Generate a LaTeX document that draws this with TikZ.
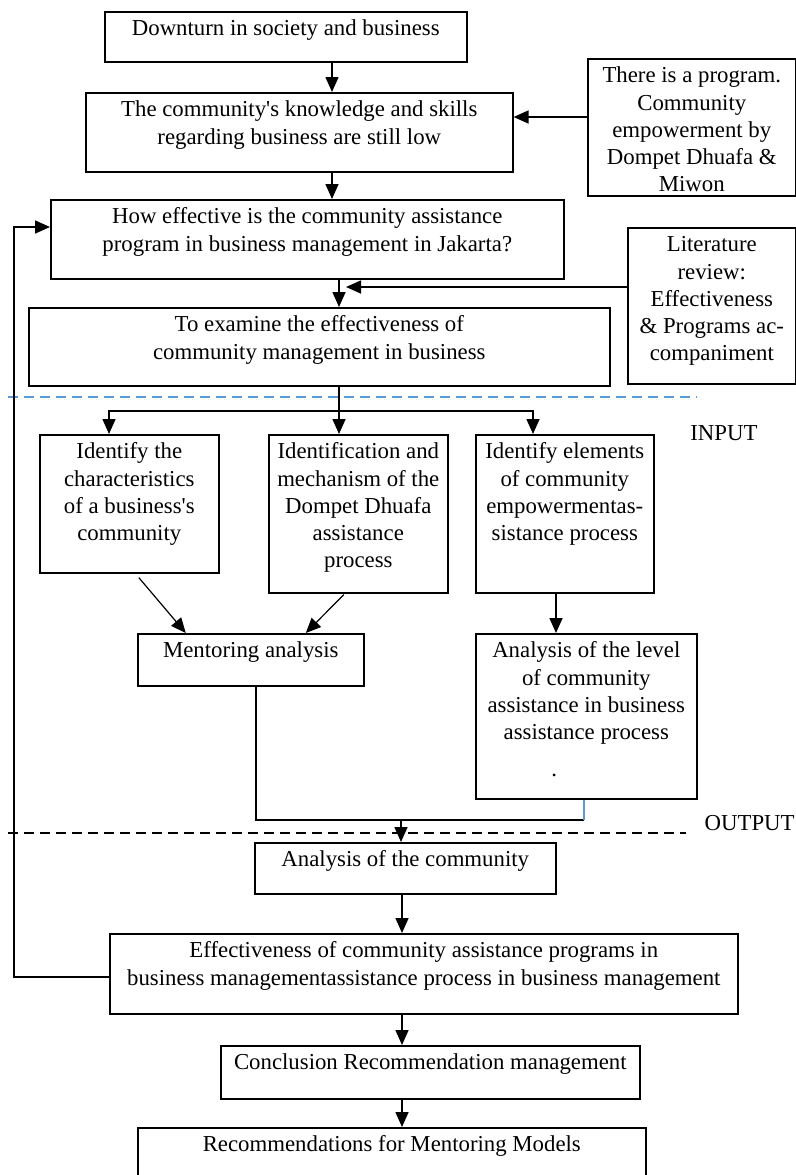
\documentclass[tikz,border=0pt]{standalone}
\usepackage{fontspec}
\setmainfont{Liberation Serif}
\newfontfamily\plainrm{Liberation Serif}
\usetikzlibrary{arrows.meta}
\definecolor{dashblue}{RGB}{91,155,213}
\tikzstyle{block} = [rectangle, draw=black, thick, inner sep=0pt, anchor=north west]
\tikzstyle{arrow} = [thick,->,>={Triangle[length=7.5pt,width=6.5pt]}]
\tikzstyle{line} = [thick]
\tikzstyle{divider} = [thick, dash pattern=on 5pt off 3pt]
\newcommand{\boxtext}[3]{\parbox[c][#2][t]{#1}{\centering\rule{0pt}{12pt}#3\par}}
\newcommand{\apos}{{\plainrm'}}

\begin{document}
\begin{tikzpicture}[x=0.5pt, y=-0.5pt, font=\fontsize{11.4pt}{13.6pt}\selectfont]
\useasboundingbox (0,0) rectangle (796,1175);
% problem part
\node (down) [block] at (104,11) {\boxtext{181pt}{25pt}{Downturn in society and business}};
\node (know) [block] at (85,92) {\boxtext{213.5pt}{39.5pt}{The community\apos s knowledge and skills\\regarding business are still low}};
\node (prog) [block] at (587,58) {\boxtext{104pt}{68.5pt}{There is a program.\\Community\\empowerment by\\Dompet Dhuafa \&\\Miwon}};
\node (how) [block] at (50,199) {\boxtext{256.5pt}{39.5pt}{How effective is the community assistance\\program in business management in Jakarta?}};
\node (lit) [block] at (627,227) {\boxtext{84pt}{78pt}{Literature\\review:\\Effectiveness\\\& Programs ac-\\companiment}};
\node (exam) [block] at (28,307) {\boxtext{290.5pt}{39pt}{To examine the effectiveness of\\community management in business}};
% input part
\node (chars) [block] at (39,434) {\boxtext{89.5pt}{69pt}{Identify the\\characteristics\\of a business\apos s\\community}};
\node (mech) [block] at (268,434) {\boxtext{89.5pt}{79pt}{Identification and\\mechanism of the\\Dompet Dhuafa\\assistance\\process}};
\node (elem) [block] at (475,434) {\boxtext{89pt}{79pt}{Identify elements\\of community\\empowermentas-\\sistance process}};
\node (ment) [block] at (137,633) {\boxtext{113pt}{26pt}{Mentoring analysis}};
\node (level) [block] at (475,633) {\boxtext{110.5pt}{82.5pt}{Analysis of the level\\of community\\assistance in business\\assistance process\\[5pt].\hspace*{32pt}}};
% output part
\node (comm) [block] at (254,842) {\boxtext{150.5pt}{25.5pt}{Analysis of the community}};
\node (eff) [block] at (109,933) {\boxtext{314pt}{40pt}{Effectiveness of community assistance programs in\\business managementassistance process in business management}};
\node (concl) [block] at (220,1045) {\boxtext{209.5pt}{26.5pt}{Conclusion Recommendation management}};
\node (rec) [block] at (137,1127) {\boxtext{254pt}{40pt}{Recommendations for Mentoring Models}};
\node (input) [anchor=west, inner sep=0pt] at (690,433) {INPUT};
\node (output) [anchor=east, inner sep=0pt] at (795,823) {OUTPUT};
% dividers
\draw [divider, dashblue] (8,397) -- (697,397);
\draw [divider] (8,833) -- (686,833);
% connectors
\coordinate (c1) at (332,0);
\coordinate (c2) at (339,0);
\coordinate (c3) at (346,287);
\coordinate (c4) at (0,117);
\draw [arrow] (down.south -| c1) -- (know.north -| c1);
\draw [arrow] (prog.west |- c4) -- (know.east |- c4);
\draw [arrow] (know.south -| c1) -- (how.north -| c1);
\draw [arrow] (how.south -| c2) -- (exam.north -| c2);
\draw [arrow] (lit.west |- c3) -- (c3);
\coordinate (b1) at (109,411);
\coordinate (b3) at (533,411);
\draw [arrow] (exam.south -| c2) -- (mech.north -| c2);
\draw [arrow] (c2 |- b1) -| (chars.north -| b1);
\draw [arrow] (c2 |- b1) -| (elem.north -| b3);
\draw [arrow, semithick] ([xshift=4.75pt,yshift=-2pt]chars.south) -- ([xshift=-32.5pt]ment.north);
\draw [arrow, semithick] ([xshift=-7.25pt,yshift=-0.5pt]mech.south) -- ([xshift=27.5pt]ment.north);
\coordinate (c5) at (556,0);
\draw [arrow] (elem.south -| c5) -- (level.north -| c5);
\coordinate (j) at (584,820);
\coordinate (c6) at (401,820);
\draw [line] ([xshift=2.5pt]ment.south) |- (j);
\draw [semithick, dashblue] (j) -- (level.south -| j);
\draw [arrow] (c6) -- (comm.north -| c6);
\coordinate (c7) at (402,0);
\draw [arrow] (comm.south -| c7) -- (eff.north -| c7);
\draw [arrow] (eff.south -| c7) -- (concl.north -| c7);
\draw [arrow] (concl.south -| c7) -- (rec.north -| c7);
% feedback
\coordinate (f) at (14,977);
\coordinate (f2) at (0,227);
\draw [arrow] (eff.west |- f) -- (f) |- (how.west |- f2);
\end{tikzpicture}
\end{document}
